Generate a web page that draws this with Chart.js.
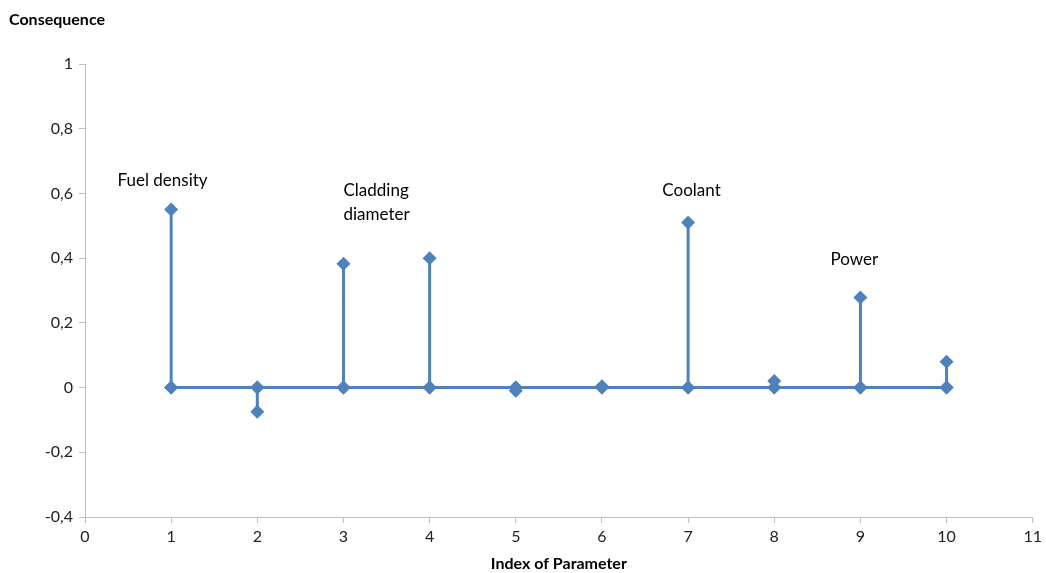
<!DOCTYPE html>
<html>
<head>
<meta charset="utf-8">
<script src="https://cdn.jsdelivr.net/npm/chart.js@4/dist/chart.umd.min.js"></script>
<style>
  html, body { margin: 0; padding: 0; background: #fff; }
  #wrap { width: 1046px; height: 573px; position: relative; }
</style>
</head>
<body>
<div id="wrap"><canvas id="chart"></canvas></div>
<script>
const paramIndex = [1, 2, 3, 4, 5, 6, 7, 8, 9, 10];
const consequence = [0.55, -0.075, 0.383, 0.4, -0.01, 0.004, 0.51, 0.02, 0.278, 0.08];
const yTicks = [-0.4, -0.2, 0, 0.2, 0.4, 0.6, 0.8, 1];
const xTicks = [0, 1, 2, 3, 4, 5, 6, 7, 8, 9, 10, 11];
const notes = [
    { text: ['Fuel density'], x: 0.9, y: 0.64, align: 'center' },
    { text: ['Cladding', 'diameter'], x: 3.0, y: 0.61, align: 'left' },
    { text: ['Coolant'], x: 7.04, y: 0.61, align: 'center' },
    { text: ['Power'], x: 8.93, y: 0.395, align: 'center' },
];

const blue = '#4f81bd';
const axisGrey = '#bfbfbf';
const font = 'Lato, "Open Sans", sans-serif';

// stems: pairs of points (x,0) -> (x,value), broken by null
const stems = [];
paramIndex.forEach((x, i) => {
    stems.push({ x: x, y: 0 });
    stems.push({ x: x, y: consequence[i] });
    stems.push({ x: x, y: null });
});

const notesPlugin = {
    id: 'notes',
    afterDatasetsDraw(chart) {
        const { ctx, scales } = chart;
        ctx.save();
        ctx.fillStyle = '#000';
        ctx.font = '17px ' + font;
        ctx.textBaseline = 'middle';
        notes.forEach((n) => {
            ctx.textAlign = n.align;
            const px = scales.x.getPixelForValue(n.x);
            const py = scales.y.getPixelForValue(n.y);
            n.text.forEach((line, j) => ctx.fillText(line, px, py + j * 24));
        });
        ctx.font = 'bold 16px ' + font;
        ctx.textAlign = 'left';
        ctx.fillText('Consequence', 9, 20);
        ctx.restore();
    },
};

new Chart(document.getElementById('chart'), {
    type: 'scatter',
    data: {
        datasets: [
            {
                label: 'Stems',
                data: stems,
                showLine: true,
                spanGaps: false,
                borderColor: blue,
                backgroundColor: blue,
                borderWidth: 3,
                pointStyle: 'rectRot',
                pointRadius: 7,
                pointBorderWidth: 0,
            },
            {
                label: 'Baseline',
                data: paramIndex.map((x) => ({ x: x, y: 0 })),
                showLine: true,
                borderColor: blue,
                backgroundColor: blue,
                borderWidth: 3,
                pointStyle: 'rectRot',
                pointRadius: 7,
                pointBorderWidth: 0,
            },
        ],
    },
    options: {
        responsive: true,
        maintainAspectRatio: false,
        animation: false,
        layout: { padding: { top: 64, right: 13, left: 0, bottom: 0 } },
        plugins: {
            legend: { display: false },
            tooltip: { enabled: false },
        },
        scales: {
            x: {
                type: 'linear',
                min: 0,
                max: 11,
                afterBuildTicks: (scale) => {
                    scale.ticks = xTicks.map((v) => ({ value: v }));
                },
                afterFit: (scale) => {
                    scale.height = 56;
                },
                grid: {
                    drawOnChartArea: false,
                    drawTicks: true,
                    tickLength: 6,
                    color: axisGrey,
                },
                border: { color: axisGrey, width: 1 },
                ticks: {
                    color: '#222',
                    font: { family: font, size: 16 },
                    padding: 4,
                    maxRotation: 0,
                },
                title: {
                    display: true,
                    text: 'Index of Parameter',
                    color: '#000',
                    font: { family: font, size: 16, weight: 'bold' },
                    padding: { top: 0, bottom: 0 },
                },
            },
            y: {
                min: -0.4,
                max: 1,
                afterBuildTicks: (scale) => {
                    scale.ticks = yTicks.map((v) => ({ value: v }));
                },
                afterFit: (scale) => {
                    scale.width = 85;
                },
                grid: {
                    drawOnChartArea: false,
                    drawTicks: true,
                    tickLength: 6,
                    color: axisGrey,
                },
                border: { color: axisGrey, width: 1 },
                ticks: {
                    color: '#222',
                    font: { family: font, size: 16 },
                    padding: 6,
                    callback: (v) => String(Math.round(v * 10) / 10).replace('.', ','),
                },
            },
        },
    },
    plugins: [notesPlugin],
});
</script>
</body>
</html>
